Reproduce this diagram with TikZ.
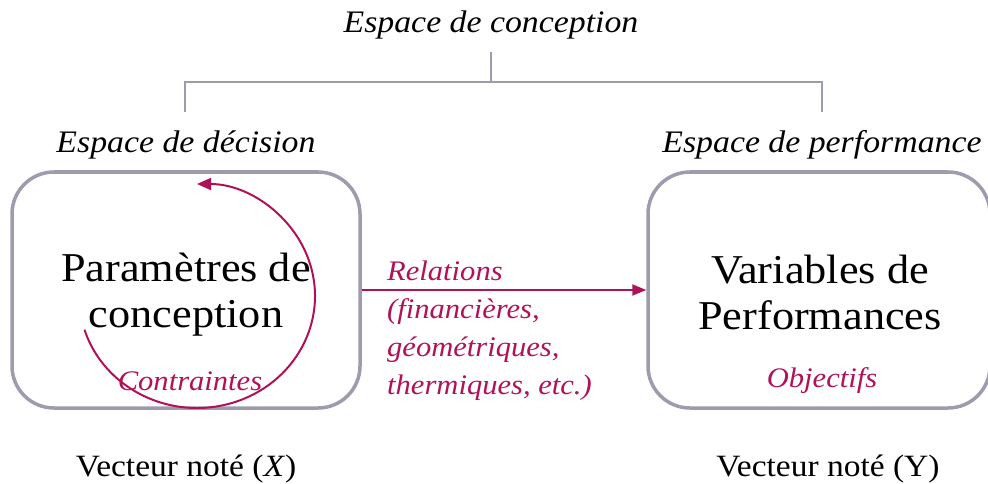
\documentclass[tikz,border=0pt]{standalone}
\usepackage{fontspec}
\setmainfont[FakeStretch=1.08]{Liberation Serif}
\usetikzlibrary{arrows.meta,calc}
\definecolor{boxgray}{RGB}{158,155,175}
\definecolor{crimson}{RGB}{176,18,90}
\begin{document}
\begin{tikzpicture}[x=1pt,y=-1pt,
  box/.style={draw=boxgray, line width=3.5pt, rounded corners=42pt, minimum width=348pt, minimum height=236pt, inner sep=0pt},
  big/.style={font=\fontsize{41}{46}\selectfont, align=center, inner sep=0pt},
  space/.style={font=\fontsize{31.3}{36}\selectfont\itshape, inner sep=0pt},
  red/.style={font=\fontsize{28.3}{38}\selectfont\itshape, text=crimson, inner sep=0pt},
  vec/.style={font=\fontsize{31}{36}\selectfont, inner sep=0pt},
  brk/.style={draw=boxgray, line width=2pt},
  rel/.style={draw=crimson, line width=2pt}]
\useasboundingbox (0,0) rectangle (988,484);
\clip (0,0) rectangle (988,484);

% spaces
\node[space, anchor=base] (conc) at (491,33) {Espace de conception};
\node[space, anchor=base] (dec) at (186,153) {Espace de décision};
\node[space, anchor=base] (perf) at (822,153) {Espace de performance};

% bracket
\coordinate (top) at (491,52);
\coordinate (mid) at (491,82);
\coordinate (bl) at (185,82);
\coordinate (br) at (822,82);
\coordinate (dl) at (185,112);
\coordinate (dr) at (822,112);
\draw[brk] (top) -- (mid);
\draw[brk] (dl) -- (bl) -- (br) -- (dr);

% boxes
\node[box] (L) at (186,290) {};
\node[box, minimum width=342pt] (R) at (819,290) {};

\node[big] (pc) at (186,295) {Paramètres de\\conception};
\node[big] (vp) at (820,292) {Variables de\\Performances};

% constraint loop
\coordinate (c0) at (197,296);
\draw[rel, -{Triangle[length=14pt,width=12pt]}] ($(c0)+(162.5:118 and 112)$) arc[start angle=162.5, end angle=-90, x radius=118, y radius=112];

\node[red] (ctr) at (190,381) {Contraintes};
\node[red] (obj) at (822,381) {Objectifs};

% relation arrow
\draw[rel, -{Triangle[length=14pt,width=11pt]}] (L.east) -- (R.west);
\node[red, align=left, anchor=north west] (relt) at (387,261) {Relations\\(financières,\\géométriques,\\thermiques, etc.)};

% vectors
\node[vec, anchor=base] (vx) at (186,476) {Vecteur noté (\textit{X})};
\node[vec, anchor=base] (vy) at (828,476) {Vecteur noté (Y)};
\end{tikzpicture}
\end{document}
